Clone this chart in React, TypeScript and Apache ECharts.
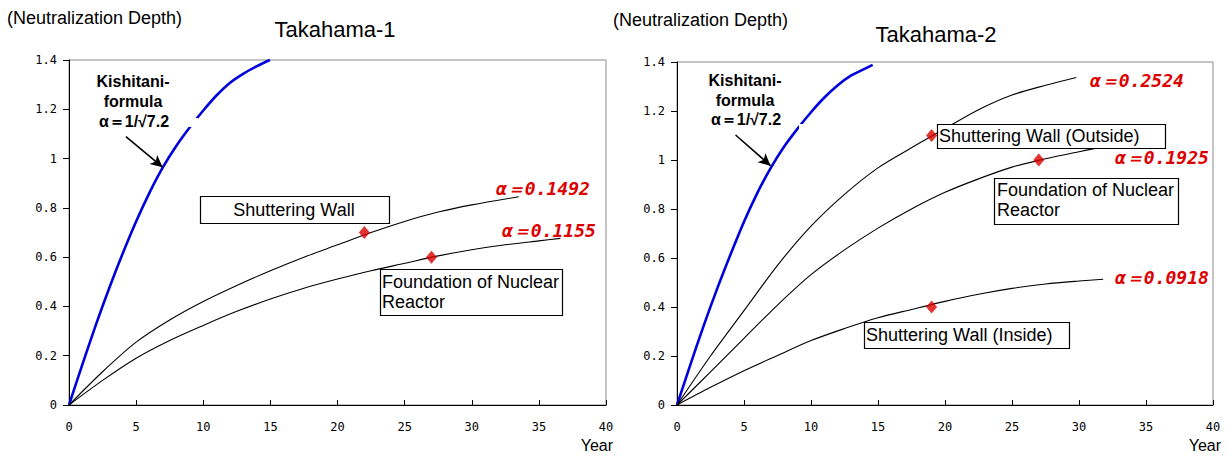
import React, { useEffect, useRef } from "react";
import * as echarts from "echarts";

// ---------- data (Year, Neutralization depth) ----------
const chartTitles = ["Takahama-1", "Takahama-2"];
const yAxisTitle = "(Neutralization Depth)";
const xAxisTitle = "Year";

// Takahama-1
const t1Kishitani: [number, number][] = [
  [0, 0], [1, 0.165], [2, 0.325], [3, 0.475], [4, 0.615], [5, 0.745], [6, 0.862], [7, 0.965],
  [8, 1.052], [9, 1.127], [10, 1.195], [11, 1.257], [12, 1.308], [13, 1.345],
  [14, 1.375], [14.97, 1.4],
];
const t1Shuttering: [number, number][] = [
  [0, 0], [2.5, 0.135], [5, 0.255], [7.5, 0.345], [10, 0.42], [12.5, 0.485], [15, 0.545],
  [17.5, 0.6], [20, 0.65], [22.5, 0.7], [25, 0.745], [27.5, 0.783], [30, 0.812], [33.5, 0.845],
];
const t1Foundation: [number, number][] = [
  [0, 0], [2.5, 0.1], [5, 0.19], [7.5, 0.262], [10, 0.323], [12.5, 0.38], [15, 0.43],
  [17.5, 0.474], [20, 0.511], [22.5, 0.545], [25, 0.575], [27.5, 0.605], [30, 0.63],
  [32.5, 0.65], [35, 0.666], [36.6, 0.676],
];
const t1Measured: [number, number][] = [[22, 0.7], [27, 0.6]];
const t1Arrow: [number, number][] = [[4.24, 1.089], [6.97, 0.965]];

// Takahama-2
const t2Kishitani: [number, number][] = [
  [0, 0], [1, 0.165], [2, 0.325], [3, 0.475], [4, 0.615], [5, 0.748], [6, 0.866], [7, 0.968],
  [8, 1.055], [9, 1.128], [10, 1.195], [11, 1.255], [12, 1.305], [13, 1.345],
  [14, 1.372], [14.6, 1.388],
];
const t2Outside: [number, number][] = [
  [0, 0], [2.5, 0.2], [5, 0.385], [7.5, 0.57], [10, 0.73], [12.5, 0.86], [15, 0.968],
  [17.5, 1.05], [20, 1.128], [22.5, 1.205], [25, 1.265], [27.5, 1.305], [29.8, 1.337],
];
const t2Foundation: [number, number][] = [
  [0, 0], [2.5, 0.135], [5, 0.272], [7.5, 0.408], [10, 0.532], [12.5, 0.633], [15, 0.722],
  [17.5, 0.8], [20, 0.868], [22.5, 0.923], [25, 0.971], [27.5, 1.005], [30, 1.034], [31.3, 1.048],
];
const t2Inside: [number, number][] = [
  [0, 0], [2.5, 0.072], [5, 0.14], [7.5, 0.202], [10, 0.263], [12.5, 0.312], [15, 0.356],
  [17.5, 0.39], [20, 0.423], [22.5, 0.452], [25, 0.476], [27.5, 0.494], [30, 0.506], [31.8, 0.513],
];
const t2Measured: [number, number][] = [[19, 1.1], [27, 1.0], [19, 0.4]];
const t2Arrow: [number, number][] = [[4.37, 1.102], [6.98, 0.977]];

const alphaLabels1 = ["α＝0.1492", "α＝0.1155"];
const alphaLabels2 = ["α＝0.2524", "α＝0.1925", "α＝0.0918"];
const kishitaniLines = ["Kishitani-", "formula", "α＝1/√7.2"];

// ---------- styling ----------
const SANS = '"Liberation Sans", Arial, sans-serif';
const MONO = '"DejaVu Sans Mono", monospace';
const BLUE = "#0000dd";
const RED = "#dd0000";

function makeXAxis(gridIndex: number) {
  return {
    type: "value",
    gridIndex,
    min: 0,
    max: 40,
    interval: 5,
    axisLine: { show: true, onZero: false, lineStyle: { color: "#000", width: 1 } },
    axisTick: { show: true, inside: true, length: 5, lineStyle: { color: "#000" } },
    axisLabel: { color: "#000", fontFamily: MONO, fontSize: 12, margin: 16 },
    splitLine: { show: false },
  };
}
function makeYAxis(gridIndex: number) {
  return {
    type: "value",
    gridIndex,
    min: 0,
    max: 1.4,
    interval: 0.2,
    axisLine: { show: true, onZero: false, lineStyle: { color: "#000", width: 1 } },
    axisTick: { show: true, inside: false, length: 6, lineStyle: { color: "#000" } },
    axisLabel: {
      color: "#000",
      fontFamily: MONO,
      fontSize: 12,
      margin: 12,
      formatter: (v: number) => String(Number(v.toFixed(1))),
    },
    splitLine: { show: false },
  };
}

function curve(name: string, data: [number, number][], idx: number, color: string, width: number, arrow?: [number, number][]) {
  const s: any = {
    name,
    type: "line",
    xAxisIndex: idx,
    yAxisIndex: idx,
    data,
    smooth: 0.3,
    symbol: "none",
    showSymbol: false,
    lineStyle: { color, width },
    z: 3,
  };
  if (arrow) {
    s.markLine = {
      silent: true,
      symbol: ["none", "arrow"],
      symbolSize: [9, 12],
      lineStyle: { color: "#000", width: 1.6, type: "solid" },
      label: { show: false },
      data: [[{ coord: arrow[0] }, { coord: arrow[1] }]],
    };
  }
  return s;
}
function markers(name: string, data: [number, number][], idx: number) {
  return {
    name,
    type: "scatter",
    xAxisIndex: idx,
    yAxisIndex: idx,
    data,
    symbol: "diamond",
    symbolSize: [11, 13],
    itemStyle: { color: RED },
    z: 4,
  };
}

function txt(text: string, x: number, y: number, font: string, fill = "#000", align = "left", z = 12) {
  return {
    type: "text",
    x,
    y,
    z,
    silent: true,
    style: { text, font, fill, textAlign: align, textVerticalAlign: "middle" },
  };
}
function box(x: number, y: number, w: number, h: number) {
  return {
    type: "rect",
    z: 11,
    silent: true,
    shape: { x: x + 0.5, y: y + 0.5, width: w, height: h },
    style: { fill: "#fff", stroke: "#000", lineWidth: 1.2 },
  };
}
function cover(x: number, y: number, w: number, h: number) {
  return {
    type: "rect",
    z: 11,
    silent: true,
    shape: { x, y, width: w, height: h },
    style: { fill: "#fff" },
  };
}

export default function App() {
  const ref = useRef<HTMLDivElement>(null);
  useEffect(() => {
    if (!ref.current) return;
    const chart = echarts.init(ref.current, null, { renderer: "svg" });
    const boxFont = `18px ${SANS}`;
    const alphaFont = `italic bold 18px ${MONO}`;
    const kFont = `bold 16px ${SANS}`;
    chart.setOption({
      animation: false,
      backgroundColor: "#fff",
      grid: [
        { left: 69, top: 60, width: 537, height: 345, show: true, borderColor: "#8a8a8a", borderWidth: 1 },
        { left: 677, top: 62, width: 536, height: 343, show: true, borderColor: "#8a8a8a", borderWidth: 1 },
      ],
      xAxis: [makeXAxis(0), makeXAxis(1)],
      yAxis: [makeYAxis(0), makeYAxis(1)],
      series: [
        curve("Kishitani-1", t1Kishitani, 0, BLUE, 2.6, t1Arrow),
        curve("Shuttering Wall", t1Shuttering, 0, "#000", 1.1),
        curve("Foundation of Nuclear Reactor", t1Foundation, 0, "#000", 1.1),
        markers("Measured-1", t1Measured, 0),
        curve("Kishitani-2", t2Kishitani, 1, BLUE, 2.6, t2Arrow),
        curve("Shuttering Wall (Outside)", t2Outside, 1, "#000", 1.1),
        curve("Foundation of Nuclear Reactor 2", t2Foundation, 1, "#000", 1.1),
        curve("Shuttering Wall (Inside)", t2Inside, 1, "#000", 1.1),
        markers("Measured-2", t2Measured, 1),
      ],
      graphic: [
        // headings
        txt(yAxisTitle, 7, 18, `18px ${SANS}`),
        txt(yAxisTitle, 613, 20, `18px ${SANS}`),
        txt(chartTitles[0], 335, 29, `22px ${SANS}`, "#000", "center"),
        txt(chartTitles[1], 936, 34, `22px ${SANS}`, "#000", "center"),
        txt(xAxisTitle, 613, 445, `16px ${SANS}`, "#000", "right"),
        txt(xAxisTitle, 1221, 445, `16px ${SANS}`, "#000", "right"),
        // gaps in Kishitani curves
        cover(188, 118, 10, 9),
        cover(799, 124, 9, 8),
        // Kishitani labels
        txt(kishitaniLines[0], 133, 81, kFont, "#000", "center"),
        txt(kishitaniLines[1], 133, 101, kFont, "#000", "center"),
        txt(kishitaniLines[2], 134, 121, kFont, "#000", "center"),
        txt(kishitaniLines[0], 745, 80, kFont, "#000", "center"),
        txt(kishitaniLines[1], 745, 100, kFont, "#000", "center"),
        txt(kishitaniLines[2], 746, 119, kFont, "#000", "center"),
        // alpha labels
        txt(alphaLabels1[0], 496, 188, alphaFont, RED),
        txt(alphaLabels1[1], 502, 230, alphaFont, RED),
        txt(alphaLabels2[0], 1090, 80, alphaFont, RED),
        txt(alphaLabels2[1], 1115, 157, alphaFont, RED),
        txt(alphaLabels2[2], 1115, 277, alphaFont, RED),
        // boxes - Takahama-1
        box(200, 196, 189, 27),
        txt("Shuttering Wall", 294, 210, boxFont, "#000", "center"),
        box(380, 269, 182, 46),
        txt("Foundation of Nuclear", 382, 282, boxFont),
        txt("Reactor", 382, 302, boxFont),
        // boxes - Takahama-2
        box(937, 124, 228, 24),
        txt("Shuttering Wall (Outside)", 939, 136, boxFont),
        box(994, 178, 184, 46),
        txt("Foundation of Nuclear", 997, 190, boxFont),
        txt("Reactor", 997, 210, boxFont),
        box(864, 322, 205, 26),
        txt("Shuttering Wall (Inside)", 866, 335, boxFont),
      ],
    });
    return () => chart.dispose();
  }, []);
  return (
    <div
      ref={ref}
      style={{ position: "absolute", left: 0, top: 0, width: 1229, height: 456 }}
    />
  );
}
